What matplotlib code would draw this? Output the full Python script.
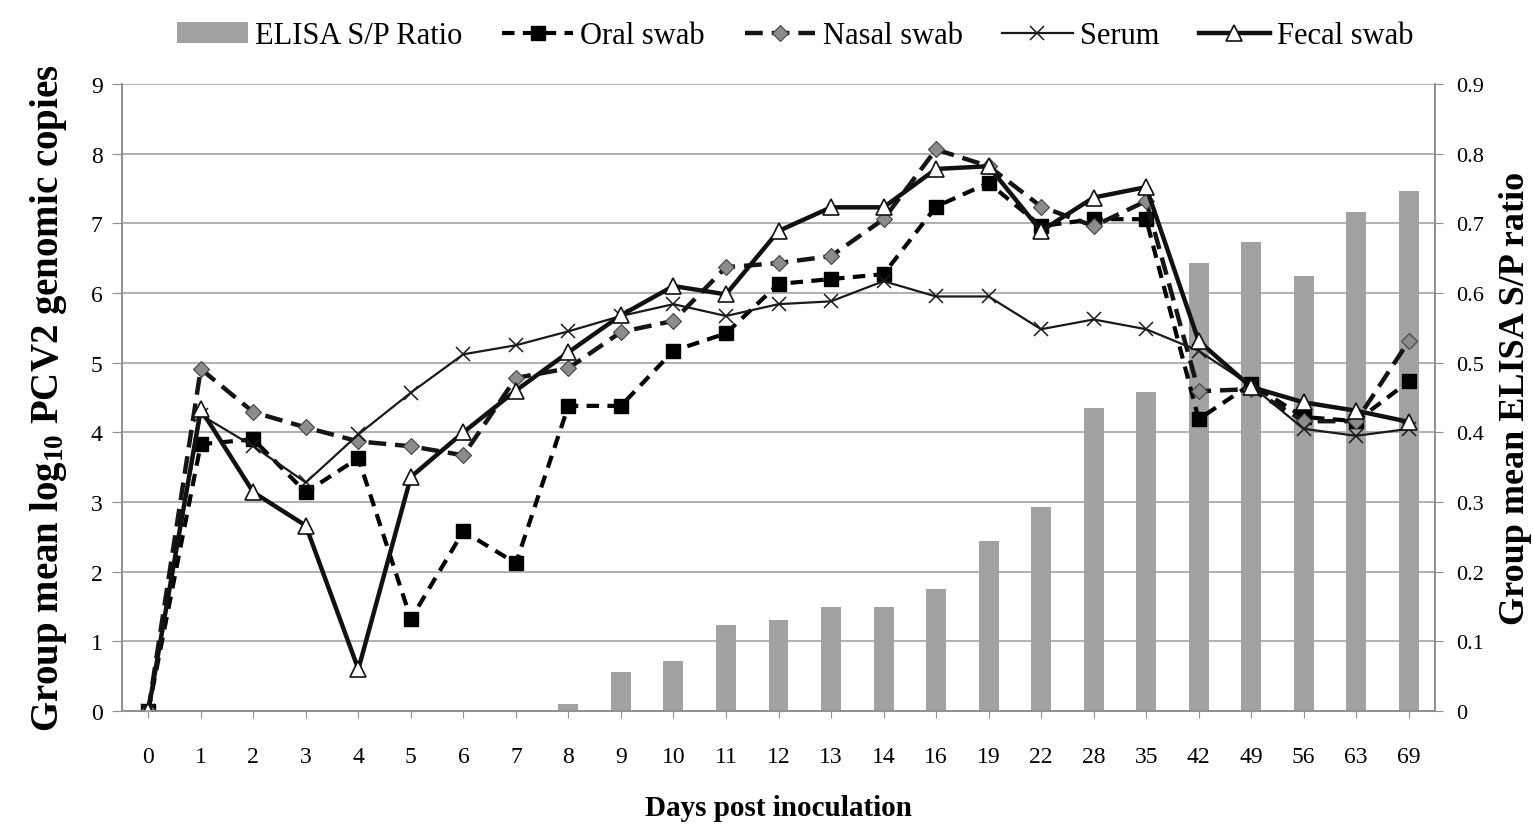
import matplotlib
matplotlib.use('Agg')
import matplotlib.pyplot as plt
import numpy as np

plt.rcParams['font.family'] = ['Liberation Serif', 'DejaVu Serif']
# subscript in the left axis label should stay in the bold serif face
plt.rcParams['mathtext.fontset'] = 'custom'
plt.rcParams['mathtext.rm'] = 'Liberation Serif:bold'
plt.rcParams['mathtext.it'] = 'Liberation Serif:bold'
plt.rcParams['mathtext.bf'] = 'Liberation Serif:bold'

days = ['0', '1', '2', '3', '4', '5', '6', '7', '8', '9', '10', '11', '12',
        '13', '14', '16', '19', '22', '28', '35', '42', '49', '56', '63', '69']
elisa = [0, 0.002, 0.002, 0.002, 0.002, 0.002, 0.002, 0.002, 0.01, 0.056,
         0.072, 0.123, 0.13, 0.15, 0.149, 0.175, 0.244, 0.293, 0.435, 0.458,
         0.643, 0.673, 0.624, 0.716, 0.746]
oral = [0, 3.83, 3.9, 3.14, 3.63, 1.32, 2.58, 2.12, 4.38, 4.38, 5.17, 5.42,
        6.13, 6.2, 6.27, 7.24, 7.58, 6.96, 7.06, 7.06, 4.19, 4.69, 4.22, 4.16, 4.73]
nasal = [0, 4.91, 4.29, 4.07, 3.87, 3.8, 3.67, 4.78, 4.92, 5.44, 5.6, 6.37,
         6.43, 6.53, 7.06, 8.06, 7.82, 7.24, 6.96, 7.32, 4.59, 4.62, 4.16, 4.16, 5.31]
serum = [0, 4.25, 3.8, 3.28, 3.97, 4.57, 5.12, 5.25, 5.45, 5.67, 5.84, 5.67,
         5.84, 5.88, 6.17, 5.95, 5.95, 5.48, 5.62, 5.48, 5.17, 4.67, 4.05, 3.95, 4.05]
fecal = [0, 4.33, 3.14, 2.66, 0.6, 3.36, 4.0, 4.6, 5.15, 5.68, 6.1, 5.98,
         6.89, 7.23, 7.23, 7.78, 7.82, 6.89, 7.37, 7.52, 5.31, 4.65, 4.43, 4.31, 4.15]

W, H = 1533, 829
fig = plt.figure(figsize=(W / 100, H / 100), dpi=100)
ax = fig.add_axes([122 / W, 1 - 712 / H, (1435 - 122) / W, (712 - 85) / H])
ax2 = ax.twinx()

x = np.arange(len(days))
GRID = '#a3a3a3'
SPINE = '#8f8f8f'

# bars + grid on the right axis, lines on top
ax2.bar(x, elisa, 0.38, color='#a2a2a5', label='ELISA S/P Ratio', zorder=2)
ax2.set_ylim(0, 0.9)
ax2.set_yticks(np.arange(0, 0.91, 0.1))
ax2.set_yticklabels(['0'] + [f'{v:.1f}' for v in np.arange(0.1, 0.91, 0.1)])
ax2.yaxis.grid(True, color=GRID, lw=1.2)
ax2.set_axisbelow(True)

ax.set_zorder(ax2.get_zorder() + 1)
ax.patch.set_visible(False)

ax.plot(x, oral, color='black', lw=3.0, ls=(0, (3, 2)), marker='s', ms=10.5,
        mfc='black', mec='black', label='Oral swab')
ax.plot(x, nasal, color='#151515', lw=3.2, ls=(0, (4, 2)), marker='D', ms=8.5,
        mfc='#8c8c8c', mec='#444444', mew=0.8, label='Nasal swab')
ax.plot(x, serum, color='#1a1a1a', lw=1.6, marker='x', ms=10, mew=1.1,
        mec='#1a1a1a', label='Serum')
ax.plot(x, fecal, color='#111111', lw=3.2, marker='^', ms=11.5,
        mfc='white', mec='#111111', mew=1.2, label='Fecal swab')

ax.set_xlim(-0.5, len(days) - 0.5)
ax.set_ylim(0, 9)
ax.set_yticks(range(0, 10))
ax.set_xticks(x)
ax.set_xticklabels(days)

for a in (ax, ax2):
    a.spines['top'].set_visible(False)
    for s in ('left', 'right', 'bottom'):
        a.spines[s].set_color(SPINE)
        a.spines[s].set_linewidth(1.2)

ax.tick_params(axis='x', length=5, color=SPINE, labelsize=17, pad=20)
ax.tick_params(axis='y', length=7, color=SPINE, labelsize=17, pad=7)
ax2.tick_params(axis='y', length=6, color=SPINE, labelsize=16, pad=9)

ax.set_xlabel('Days post inoculation', fontsize=21, fontweight='bold')
ax.xaxis.set_label_coords(0.5, -0.133)
ax.set_ylabel('Group mean log$_{10}$ PCV2 genomic copies', fontsize=28,
              fontweight='bold')
ax.yaxis.set_label_coords(-0.040, 0.5)
ax2.set_ylabel('Group mean ELISA S/P ratio', fontsize=26, fontweight='bold')
ax2.yaxis.set_label_coords(1.049, 0.5)

h2, l2 = ax2.get_legend_handles_labels()
h1, l1 = ax.get_legend_handles_labels()
ax.legend(h2 + h1, l2 + l1, loc='center', bbox_to_anchor=(0.513, 1.077),
          ncol=5, frameon=False, fontsize=22, handlelength=2.3,
          handletextpad=0.25, columnspacing=1.3)

fig.savefig('out.png', dpi=100)
